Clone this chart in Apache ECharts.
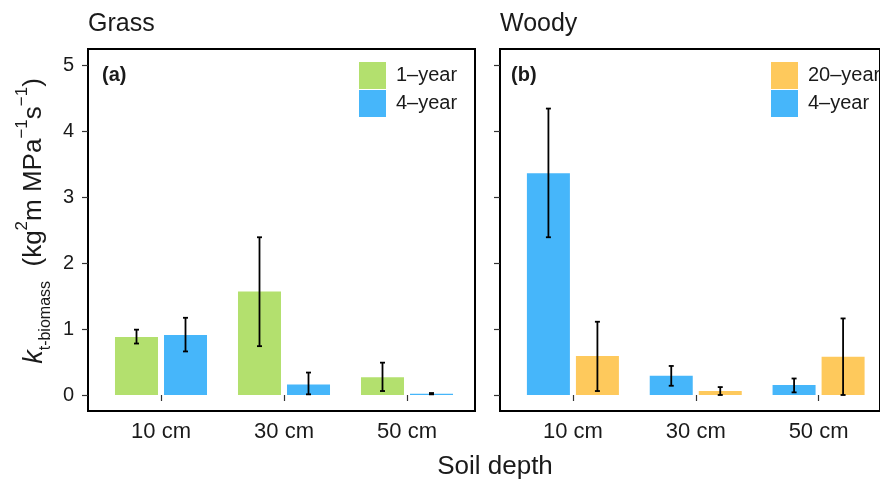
<!DOCTYPE html>
<html>
<head>
<meta charset="utf-8">
<script src="https://cdn.jsdelivr.net/npm/echarts@6/dist/echarts.min.js"></script>
<style>
    html, body { margin: 0; padding: 0; background: #fff; }
    #chart { width: 880px; height: 479px; }
</style>
</head>
<body>
<div id="chart"></div>
<script>
    // data
    var categories = ['10 cm', '30 cm', '50 cm'];

    var grass1 = [0.88, 1.57, 0.27];
    var grass1Lo = [0.78, 0.74, 0.06];
    var grass1Hi = [0.99, 2.39, 0.49];

    var grass4 = [0.91, 0.16, 0.02];
    var grass4Lo = [0.66, 0.01, 0.01];
    var grass4Hi = [1.17, 0.34, 0.03];

    var woody4 = [3.36, 0.29, 0.15];
    var woody4Lo = [2.39, 0.14, 0.04];
    var woody4Hi = [4.34, 0.44, 0.25];

    var woody20 = [0.59, 0.06, 0.58];
    var woody20Lo = [0.06, 0.00, 0.00];
    var woody20Hi = [1.11, 0.12, 1.16];

    var green = '#b3e06e', blue = '#46b6fa', orange = '#fec95c';
    var font = "'Liberation Sans', Arial, Helvetica, sans-serif";
    var ink = '#1a1a1a';

    var chart = echarts.init(document.getElementById('chart'));

    function errData(lo, hi) {
        return lo.map(function (v, i) { return [i, v, hi[i]]; });
    }

    // error bars drawn with a custom series, shifted onto the dodged bar
    function errSeries(axis, lo, hi, shift) {
        return {
            type: 'custom',
            xAxisIndex: axis,
            yAxisIndex: axis,
            z: 5,
            silent: true,
            data: errData(lo, hi),
            encode: {x: 0, y: [1, 2]},
            renderItem: function (params, api) {
                var x = api.coord([api.value(0), 0])[0] + shift;
                var y1 = api.coord([api.value(0), api.value(1)])[1];
                var y2 = api.coord([api.value(0), api.value(2)])[1];
                var st = {stroke: '#000', lineWidth: 1.8};
                return {
                    type: 'group',
                    children: [
                        {type: 'line', shape: {x1: x, y1: y1, x2: x, y2: y2}, style: st},
                        {type: 'line', shape: {x1: x - 2.5, y1: y1, x2: x + 2.5, y2: y1}, style: st},
                        {type: 'line', shape: {x1: x - 2.5, y1: y2, x2: x + 2.5, y2: y2}, style: st}
                    ]
                };
            }
        };
    }

    function frameAxes(idx) {
        return {
            x: {type: 'value', gridIndex: idx, show: false},
            y: {type: 'value', gridIndex: idx, show: false}
        };
    }

    function dataX(idx) {
        return {
            type: 'category',
            gridIndex: idx,
            data: categories,
            offset: 16,
            axisLine: {show: false},
            axisTick: {show: true, alignWithLabel: true, length: 6, lineStyle: {color: '#333', width: 1.2}},
            axisLabel: {fontSize: 22, color: ink, fontFamily: font, margin: 10}
        };
    }

    function dataY(idx, labels) {
        return {
            type: 'value',
            gridIndex: idx,
            min: 0,
            max: 5,
            interval: 1,
            offset: 11.5,
            splitLine: {show: false},
            axisLine: {show: false},
            axisTick: {show: true, length: 6, lineStyle: {color: '#333', width: 1.2}},
            axisLabel: {show: labels, fontSize: 20, color: ink, fontFamily: font, margin: 14}
        };
    }

    var f0 = frameAxes(0), f2 = frameAxes(2);

    var option = {
        animation: false,
        grid: [
            {left: 88, top: 49, width: 387, height: 362, show: true, borderColor: '#000', borderWidth: 2, backgroundColor: 'transparent'},
            {left: 99.5, top: 65, width: 369, height: 330},
            {left: 500, top: 49, width: 387, height: 362, show: true, borderColor: '#000', borderWidth: 2, backgroundColor: 'transparent'},
            {left: 511.5, top: 65, width: 369, height: 330}
        ],
        xAxis: [f0.x, dataX(1), f2.x, dataX(3)],
        yAxis: [f0.y, dataY(1, true), f2.y, dataY(3, false)],
        legend: [
            {
                data: ['1–year', '4–year'],
                orient: 'vertical',
                left: 359, top: 62,
                padding: 0,
                itemGap: 1,
                itemWidth: 27, itemHeight: 27,
                icon: 'rect',
                selectedMode: false,
                textStyle: {fontSize: 20, color: ink, fontFamily: font, padding: [0, 0, 0, 5]}
            },
            {
                data: ['20–year', '4–year'],
                orient: 'vertical',
                left: 771, top: 62,
                padding: 0,
                itemGap: 1,
                itemWidth: 27, itemHeight: 27,
                icon: 'rect',
                selectedMode: false,
                textStyle: {fontSize: 20, color: ink, fontFamily: font, padding: [0, 0, 0, 5]}
            }
        ],
        graphic: [
            {type: 'text', left: 88, top: 12, style: {text: 'Grass', fontSize: 25, fill: ink, fontFamily: font}},
            {type: 'text', left: 500, top: 12, style: {text: 'Woody', fontSize: 25, fill: ink, fontFamily: font}},
            {type: 'text', left: 102, top: 65, style: {text: '(a)', fontSize: 20, fontWeight: 'bold', fill: ink, fontFamily: font}},
            {type: 'text', left: 511, top: 65, style: {text: '(b)', fontSize: 20, fontWeight: 'bold', fill: ink, fontFamily: font}},
            {type: 'text', x: 495, y: 467, style: {text: 'Soil depth', fontSize: 26, fill: ink, fontFamily: font, align: 'center', verticalAlign: 'middle'}},
            {
                type: 'text', x: 34, y: 221, rotation: Math.PI / 2,
                style: {
                    text: '{k|k}{sub|t-biomass}{n|  (kg}{sup|2}{n|m MPa}{sup|−1}{n|s}{sup|−1}{n|)}',
                    align: 'center', verticalAlign: 'middle', fill: ink, fontFamily: font,
                    rich: {
                        k: {fontSize: 27, fontStyle: 'italic', fontFamily: font, lineHeight: 40, verticalAlign: 'middle'},
                        n: {fontSize: 26, fontFamily: font, lineHeight: 40, verticalAlign: 'middle'},
                        sup: {fontSize: 17, fontFamily: font, lineHeight: 30, verticalAlign: 'top'},
                        sub: {fontSize: 16, fontFamily: font, lineHeight: 22, verticalAlign: 'bottom'}
                    }
                }
            }
        ],
        series: [
            {name: '1–year', type: 'bar', xAxisIndex: 1, yAxisIndex: 1, data: grass1, barWidth: 43, barGap: '14%', itemStyle: {color: green}},
            {name: '4–year', type: 'bar', xAxisIndex: 1, yAxisIndex: 1, data: grass4, barWidth: 43, barGap: '14%', itemStyle: {color: blue}},
            {name: '4–year', type: 'bar', xAxisIndex: 3, yAxisIndex: 3, data: woody4, barWidth: 43, barGap: '14%', itemStyle: {color: blue}},
            {name: '20–year', type: 'bar', xAxisIndex: 3, yAxisIndex: 3, data: woody20, barWidth: 43, barGap: '14%', itemStyle: {color: orange}},
            errSeries(1, grass1Lo, grass1Hi, -24.5),
            errSeries(1, grass4Lo, grass4Hi, 24.5),
            errSeries(3, woody4Lo, woody4Hi, -24.5),
            errSeries(3, woody20Lo, woody20Hi, 24.5)
        ]
    };

    chart.setOption(option);
    window.addEventListener('resize', function () {
        chart.resize();
    });
</script>
</body>
</html>
